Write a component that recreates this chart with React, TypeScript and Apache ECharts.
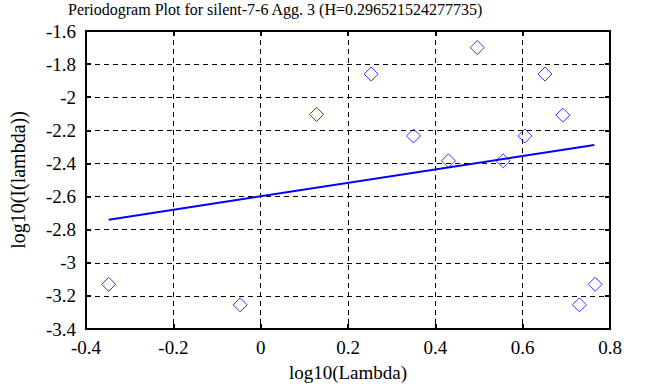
import React, { useEffect, useRef } from "react";
import * as echarts from "echarts";

const titleText = "Periodogram Plot for silent-7-6 Agg. 3 (H=0.296521524277735)";
const xName = "log10(Lambda)";
const yName = "log10(I(lambda))";

const lambdaLog = [-0.348, -0.047, 0.128, 0.253, 0.35, 0.43, 0.496, 0.555, 0.605, 0.651, 0.692, 0.73, 0.766];
const periodogramLog = [-3.13, -3.254, -2.104, -1.86, -2.234, -2.384, -1.7, -2.384, -2.234, -1.86, -2.108, -3.254, -3.13];
const fitX = [-0.348, 0.764];
const fitY = [-2.74, -2.288];

const xTicks = { min: -0.4, max: 0.8, interval: 0.2 };
const yTicks = { min: -3.4, max: -1.6, interval: 0.2 };

const FONT = "Liberation Serif";

export default function App() {
  const ref = useRef<HTMLDivElement>(null);
  useEffect(() => {
    if (!ref.current) return;
    const chart = echarts.init(ref.current, null, { renderer: "svg" });
    const fmt = (v: number) => {
      const r = Math.round(v * 10) / 10;
      return String(r);
    };
    const axisCommon = {
      axisLine: { show: true, onZero: false, lineStyle: { color: "#000", width: 2 } },
      axisTick: { show: true, inside: true, length: 5, lineStyle: { color: "#000", width: 2 } },
    };
    chart.setOption({
      animation: false,
      backgroundColor: "#fff",
      title: {
        text: titleText,
        left: 68,
        top: 1,
        padding: 0,
        textStyle: { fontFamily: FONT, fontSize: 16, fontWeight: "normal", color: "#000" },
      },
      grid: { left: 82, right: 43, top: 31, bottom: 56, containLabel: false },
      xAxis: [
        {
          type: "value",
          position: "bottom",
          ...xTicks,
          ...axisCommon,
          name: xName,
          nameLocation: "middle",
          nameGap: 34,
          nameTextStyle: { fontFamily: FONT, fontSize: 19, color: "#000" },
          axisLabel: { fontFamily: FONT, fontSize: 19, color: "#000", margin: 9, formatter: fmt },
          splitLine: { show: true, lineStyle: { color: "#000", type: [5, 4], width: 1 } },
        },
        {
          type: "value",
          position: "top",
          ...xTicks,
          ...axisCommon,
          axisLabel: { show: false },
          splitLine: { show: false },
        },
      ],
      yAxis: [
        {
          type: "value",
          position: "left",
          ...yTicks,
          ...axisCommon,
          name: yName,
          nameLocation: "middle",
          nameGap: 58,
          nameTextStyle: { fontFamily: FONT, fontSize: 20, color: "#000" },
          axisLabel: { fontFamily: FONT, fontSize: 19, color: "#000", margin: 10, formatter: fmt },
          splitLine: { show: true, lineStyle: { color: "#000", type: [5, 4], width: 1 } },
        },
        {
          type: "value",
          position: "right",
          ...yTicks,
          ...axisCommon,
          axisLabel: { show: false },
          splitLine: { show: false },
        },
      ],
      series: [
        {
          type: "scatter",
          data: lambdaLog.map((x, i) => [x, periodogramLog[i]]),
          symbol: "diamond",
          symbolSize: 14,
          itemStyle: { color: "transparent", borderColor: "#0000ff", borderWidth: 1 },
          z: 3,
        },
        {
          type: "line",
          data: fitX.map((x, i) => [x, fitY[i]]),
          symbol: "none",
          lineStyle: { color: "#0000ff", width: 2 },
          z: 4,
        },
      ],
    });
    return () => chart.dispose();
  }, []);
  return <div ref={ref} style={{ width: 653, height: 387, position: "absolute", left: 0, top: 0 }} />;
}
